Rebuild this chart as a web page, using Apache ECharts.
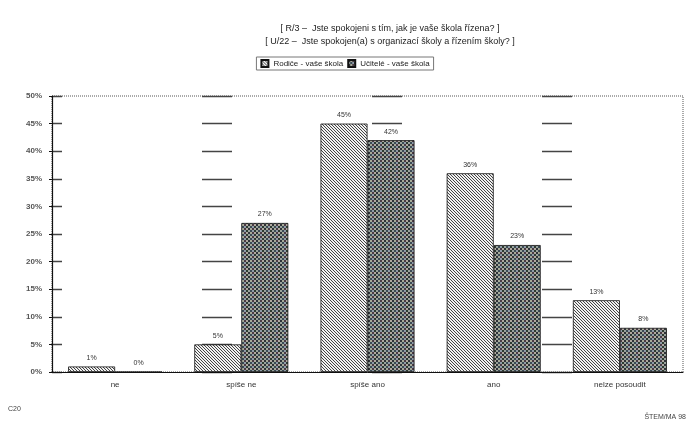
<!DOCTYPE html>
<html><head><meta charset="utf-8">
<script src="https://cdn.jsdelivr.net/npm/echarts@6/dist/echarts.min.js"></script>
<style>html,body{margin:0;padding:0;background:#fff}#c{width:690px;height:425px}</style>
</head><body><div id="c"></div>
<script>
var categories = ['ne', 'spíše ne', 'spíše ano', 'ano', 'nelze posoudit'];
var parents = [1, 5, 45, 36, 13];
var teachers = [0, 27, 42, 23, 8];
var yTicks = [0, 5, 10, 15, 20, 25, 30, 35, 40, 45, 50];
var seriesNames = ['Rodiče - vaše škola', 'Učitelé - vaše škola'];
var titleLines = ['[ R/3 –  Jste spokojeni s tím, jak je vaše škola řízena? ]', '[ U/22 –  Jste spokojen(a) s organizací školy a řízením školy? ]'];

function hatch() {
  var c = document.createElement('canvas'); c.width = 6; c.height = 6;
  var g = c.getContext('2d');
  g.fillStyle = '#f2f2f2'; g.fillRect(0, 0, 6, 6);
  g.strokeStyle = '#444'; g.lineWidth = 1;
  for (var k = -6; k <= 12; k += 3) { g.beginPath(); g.moveTo(k, 0); g.lineTo(k + 6, 6); g.stroke(); }
  return c;
}
function check() {
  var c = document.createElement('canvas'); c.width = 8; c.height = 8;
  var g = c.getContext('2d');
  var dark = ['#2e3238', '#3b4a55', '#4a3a44', '#2c3a30'];
  var light = ['#9aa39c', '#b0a8a0', '#8f9ca8', '#a6aa98'];
  var i = 0;
  for (var y = 0; y < 8; y += 2) for (var x = 0; x < 8; x += 2) {
    g.fillStyle = ((x + y) / 2) % 2 === 0 ? dark[i % 4] : light[(i * 3) % 4];
    g.fillRect(x, y, 2, 2); i++;
  }
  return c;
}
var hp = {image: hatch(), repeat: 'repeat'};
var cp = {image: check(), repeat: 'repeat'};

var chart = echarts.init(document.getElementById('c'));
var font = 'Liberation Sans, Arial, sans-serif';
chart.setOption({
  animation: false,
  textStyle: {fontFamily: font},
  title: {
    text: titleLines.join('\n'), left: 385, textAlign: 'center', top: 17,
    textStyle: {fontSize: 9, fontWeight: 'normal', color: '#222', lineHeight: 13}
  },
  legend: {
    top: 57, left: 'center', itemWidth: 7, itemHeight: 7, itemGap: 4,
    borderColor: '#777', borderWidth: 1, padding: [2, 4],
    textStyle: {fontSize: 8, color: '#222'},
    data: [{name: seriesNames[0], icon: 'rect'}, {name: seriesNames[1], icon: 'rect'}]
  },
  grid: {left: 52, right: 7, top: 96, bottom: 53, show: true, borderColor: '#555', borderWidth: 1, borderType: 'dotted'},
  xAxis: {
    type: 'category', data: categories,
    axisLine: {lineStyle: {color: '#111', width: 1}},
    axisTick: {show: false},
    axisLabel: {fontSize: 8, color: '#333', margin: 9}
  },
  yAxis: {
    type: 'value', min: 0, max: 50, interval: 5,
    axisLine: {show: true, lineStyle: {color: '#111', width: 1.2}},
    axisTick: {show: true, length: 3, lineStyle: {color: '#111'}},
    axisLabel: {fontSize: 8, color: '#555', fontWeight: 'bold', margin: 10,
      formatter: function (v) { return yTicks.indexOf(v) >= 0 ? v + '%' : ''; }},
    splitLine: {show: true, lineStyle: {color: '#444', width: 1.4, type: [30, 140], dashOffset: 20}}
  },
  series: [
    {name: seriesNames[0], type: 'bar', data: parents, barWidth: 47, barGap: '0%',
      itemStyle: {color: hp, borderColor: '#111', borderWidth: 0.8},
      label: {show: true, position: 'top', fontSize: 7, color: '#333', formatter: '{c}%'}},
    {name: seriesNames[1], type: 'bar', data: teachers, barWidth: 47,
      itemStyle: {color: cp, borderColor: '#111', borderWidth: 0.8},
      label: {show: true, position: 'top', fontSize: 7, color: '#333', formatter: '{c}%'}}
  ],
  graphic: [
    {type: 'text', left: 8, top: 406, style: {text: 'C20', fontSize: 7, fill: '#444', fontFamily: font}},
    {type: 'text', right: 4, top: 414, style: {text: 'ŠTEM/MA 98', fontSize: 7, fill: '#444', fontFamily: font}}
  ]
});
</script></body></html>
